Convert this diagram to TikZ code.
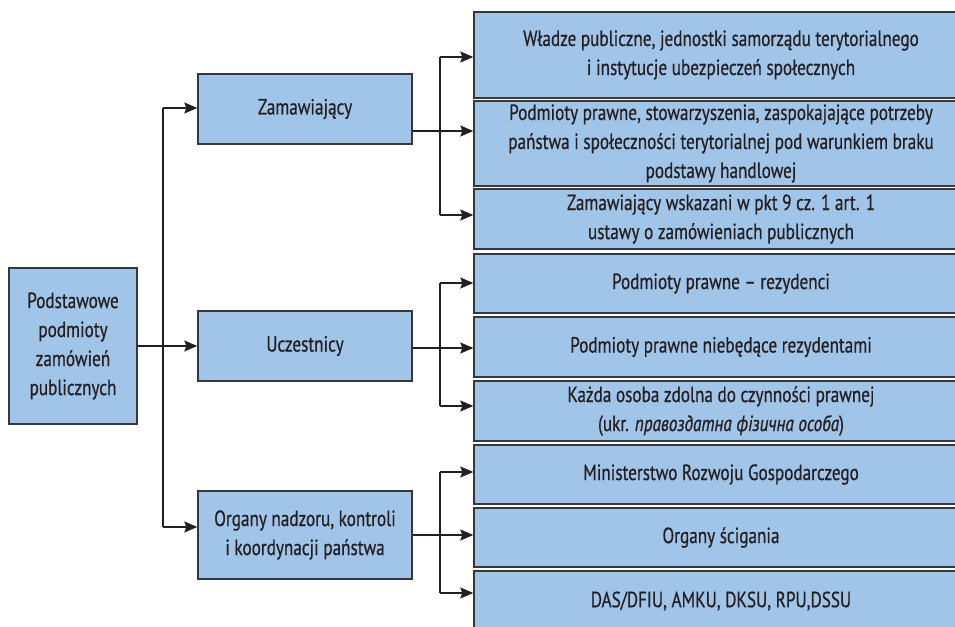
\documentclass[tikz,border=0pt]{standalone}
\usepackage{fontspec}
\setmainfont[FakeStretch=0.78,FakeBold=0.5]{PT Sans}
\usetikzlibrary{arrows.meta}
\definecolor{boxfill}{RGB}{161,196,233}
\definecolor{boxline}{RGB}{55,55,55}
\definecolor{ink}{RGB}{35,31,32}
\begin{document}
\begin{tikzpicture}[x=1pt,y=-1pt,
  box/.style={draw=boxline, line width=1.4pt, fill=boxfill, text=ink, align=center, inner sep=0pt, font=\fontsize{22}{29}\selectfont},
  rbox/.style={box, minimum width=494pt},
  mbox/.style={box, minimum width=214pt},
  conn/.style={draw=ink, line width=1.3pt},
  arr/.style={conn, -{Stealth[length=13pt,width=11pt,inset=2pt]}}]
\useasboundingbox (0,0) rectangle (955,626);
\clip (0,0) rectangle (955,626);
% left
\node[box, minimum width=128pt, minimum height=156pt] (root) at (73,346) {Podstawowe\\podmioty\\zamówień\\publicznych};
% middle
\node[mbox, minimum height=70pt] (zam) at (305,109) {Zamawiający};
\node[mbox, minimum height=70pt] (ucz) at (305,346) {Uczestnicy};
\node[mbox, minimum height=88pt] (org) at (305,535) {Organy nadzoru, kontroli\\i koordynacji państwa};
% right
\node[rbox, minimum height=86pt] (r1) at (721,55) {Władze publiczne, jednostki samorządu terytorialnego\\i instytucje ubezpieczeń społecznych};
\node[rbox, minimum height=85pt] (r2) at (721,143.5) {Podmioty prawne, stowarzyszenia, zaspokajające potrzeby\\państwa i społeczności terytorialnej pod warunkiem braku\\podstawy handlowej};
\node[rbox, minimum height=60pt] (r3) at (721,219) {Zamawiający wskazani w pkt 9 cz. 1 art. 1\\ustawy o zamówieniach publicznych};
\node[rbox, minimum height=59pt] (r4) at (721,283.5) {Podmioty prawne – rezydenci};
\node[rbox, minimum height=60pt] (r5) at (721,347) {Podmioty prawne niebędące rezydentami};
\node[rbox, minimum height=60pt] (r6) at (721,411) {Każda osoba zdolna do czynności prawnej\\(ukr. \textit{правоздатна фізична особа})};
\node[rbox, minimum height=59pt] (r7) at (721,474.5) {Ministerstwo Rozwoju Gospodarczego};
\node[rbox, minimum height=59pt] (r8) at (721,537.5) {Organy ścigania};
\node[rbox, minimum height=60pt] (r9) at (721,601) {DAS/DFIU, AMKU, DKSU, RPU,DSSU};
% left bus
\coordinate (a1) at (163,108);
\coordinate (a3) at (163,527);
\draw[arr] (root.east) -- (ucz.west);
\draw[conn] (a1) -- (a3);
\draw[arr] (a1) -- (a1 -| zam.west);
\draw[arr] (a3) -- (a3 -| org.west);
% Zamawiajacy bus
\coordinate (zo) at ([yshift=-22pt]zam.east);
\coordinate (z1) at (440,57);
\coordinate (z3) at (440,215);
\draw[conn] (z1) -- (z3);
\draw[arr] (zo) -- (zo -| r2.west);
\draw[arr] (z1) -- (z1 -| r1.west);
\draw[arr] (z3) -- (z3 -| r3.west);
% Uczestnicy bus
\coordinate (uo) at ([yshift=-2pt]ucz.east);
\coordinate (u1) at (440,283);
\coordinate (u3) at (440,406);
\draw[conn] (u1) -- (u3);
\draw[arr] (uo) -- (uo -| r5.west);
\draw[arr] (u1) -- (u1 -| r4.west);
\draw[arr] (u3) -- (u3 -| r6.west);
% Organy bus
\coordinate (o1) at (440,472);
\coordinate (o3) at (440,593);
\draw[conn] (o1) -- (o3);
\draw[arr] (org.east) -- (org.east -| r8.west);
\draw[arr] (o1) -- (o1 -| r7.west);
\draw[arr] (o3) -- (o3 -| r9.west);
\end{tikzpicture}
\end{document}
